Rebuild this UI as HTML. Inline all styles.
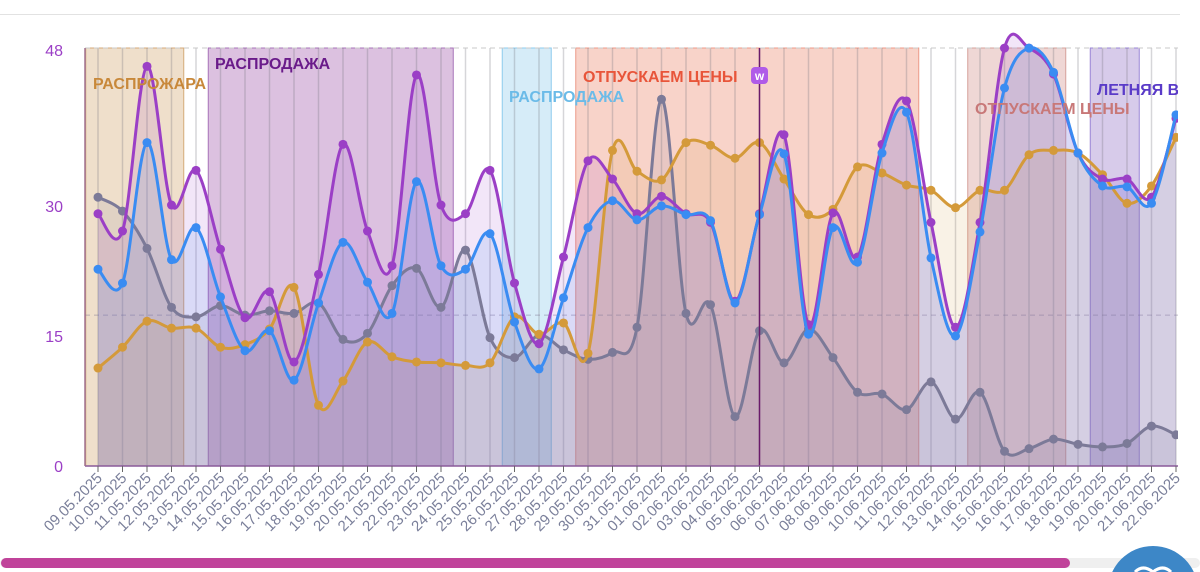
<!DOCTYPE html>
<html><head><meta charset="utf-8">
<style>
html,body{margin:0;padding:0;background:#fff;width:1200px;height:572px;overflow:hidden;font-family:"Liberation Sans","Noto Sans CJK JP",sans-serif;}
svg{display:block;overflow:hidden}
</style></head>
<body>
<svg id="chart" width="1200" height="572" viewBox="0 0 1200 572" xmlns="http://www.w3.org/2000/svg">
<line x1="0" y1="14.5" x2="1180" y2="14.5" stroke="#e2e2e2"/>
<g id="bands"></g>
<g id="grid"></g>
<g id="areas"></g>
<g id="lines"></g>
<g id="labels"></g>
<g id="axes"></g>
<rect x="0" y="558" width="1200" height="10" rx="5" fill="#efefef"/>
<rect x="1" y="558" width="1069" height="10" rx="5" fill="#c0439a"/>
<circle cx="1153" cy="591" r="45" fill="#3d87c7"/>
<path d="M1135 572 q8 -8 18 0 q10 -8 18 0" fill="none" stroke="#fff" stroke-width="3"/>
</svg>
<script>
const categories=["09.05.2025","10.05.2025","11.05.2025","12.05.2025","13.05.2025","14.05.2025","15.05.2025","16.05.2025","17.05.2025","18.05.2025","19.05.2025","20.05.2025","21.05.2025","22.05.2025","23.05.2025","24.05.2025","25.05.2025","26.05.2025","27.05.2025","28.05.2025","29.05.2025","30.05.2025","31.05.2025","01.06.2025","02.06.2025","03.06.2025","04.06.2025","05.06.2025","06.06.2025","07.06.2025","08.06.2025","09.06.2025","10.06.2025","11.06.2025","12.06.2025","13.06.2025","14.06.2025","15.06.2025","16.06.2025","17.06.2025","18.06.2025","19.06.2025","20.06.2025","21.06.2025","22.06.2025"];
const purple=[29.1,27.1,46.1,30.1,34.1,25.0,17.1,20.1,12.0,22.1,37.1,27.1,23.1,45.1,30.1,29.1,34.1,21.1,14.1,24.1,35.2,33.1,29.1,31.1,29.1,28.1,19.0,29.1,38.2,16.3,29.2,24.1,37.1,42.1,28.1,16.0,28.1,48.2,48.2,45.2,36.1,33.1,33.1,31.0,40.1];
const blue=[22.7,21.1,37.3,23.8,27.5,19.5,13.3,15.6,9.9,18.8,25.8,21.2,17.6,32.8,23.1,22.7,26.8,16.6,11.2,19.4,27.5,30.6,28.4,30.0,29.0,28.3,18.8,29.0,36.0,15.2,27.5,23.5,36.1,40.8,24.0,15.0,27.0,43.6,48.2,45.4,36.1,32.3,32.2,30.3,40.5];
const gray=[31.0,29.4,25.1,18.3,17.2,18.5,17.4,17.9,17.6,18.8,14.6,15.3,20.8,22.8,18.3,24.9,14.8,12.5,15.1,13.4,12.3,13.1,16.0,42.3,17.6,18.6,5.7,15.6,11.9,15.8,12.5,8.5,8.3,6.5,9.7,5.4,8.5,1.7,2.0,3.1,2.5,2.2,2.6,4.6,3.6];
const orange=[11.3,13.7,16.7,15.9,15.9,13.7,14.0,15.8,20.6,7.0,9.8,14.3,12.6,12.0,11.9,11.6,11.9,17.2,15.2,16.5,13.0,36.4,34.0,33.0,37.3,37.0,35.5,37.3,33.1,29.0,29.6,34.5,33.8,32.4,31.8,29.8,31.8,31.8,35.9,36.4,36.1,33.6,30.3,32.3,37.9];
const yTicks=[0,15,30,48];
const bandStart=[0,5,17,20,36,41];
const bandEnd=[3,14,18,33,39,42];
const bandNames=["РАСПРОЖАРА","РАСПРОДАЖА","РАСПРОДАЖА","ОТПУСКАЕМ ЦЕНЫ","ОТПУСКАЕМ ЦЕНЫ","ЛЕТНЯЯ ВЕСНА"];
const avgLine=17.4;
const markerIndex=27;

const NS="http://www.w3.org/2000/svg";
const X0=98,DX=24.5,Y0=466,KY=8.67,LEFT=85,RIGHT=1178,TOP=48;
const xs=i=>X0+DX*i, ys=v=>Y0-v*KY;
function mk(tag,attrs,parent){const e=document.createElementNS(NS,tag);for(const k in attrs)e.setAttribute(k,attrs[k]);parent.appendChild(e);return e;}
const bandFill=["#efdfcb","#dcc1e0","#d6ecf8","#f8d3c9","#efd7d5","#d7cbea"];
const bandStroke=["#d4aa78","#a773b8","#8ecbee","#ec9a88","#d6a09a","#9a85d6"];
const labelColor=["#c8883a","#6a1b8a","#6bbbe8","#e8553a","#c87878","#5a3bc8"];
const labelPos=[[93,89],[215,69],[509,102],[583,82],[975,114],[1097,95]];
const bands=document.getElementById('bands');
for(let b=0;b<bandStart.length;b++){
  const x1=xs(bandStart[b]-0.5),x2=xs(bandEnd[b]+0.5);
  const r=mk('rect',{x:x1,y:TOP,width:x2-x1,height:Y0-TOP,fill:bandFill[b],stroke:bandStroke[b],'stroke-width':1},bands);
  
  
}
const grid=document.getElementById('grid');
categories.forEach((c,i)=>{const l=mk('line',{x1:xs(i),y1:TOP,x2:xs(i),y2:Y0,stroke:'rgba(120,120,130,0.3)','stroke-width':1.5},grid);
  
  });
const tl=mk('line',{x1:LEFT,y1:TOP,x2:RIGHT,y2:TOP,stroke:'#c8c8c8','stroke-dasharray':'5 4'},grid);


const al=mk('line',{x1:LEFT,y1:ys(avgLine),x2:RIGHT,y2:ys(avgLine),stroke:'rgba(120,110,140,0.45)','stroke-dasharray':'5 4'},grid);



function curve(vals){
  const p=vals.map((v,i)=>[xs(i),ys(v)]);let d=`M${p[0][0]},${p[0][1]}`;
  for(let i=0;i<p.length-1;i++){const p0=p[i-1]||p[i],p1=p[i],p2=p[i+1],p3=p[i+2]||p2;const t=1/6;
    d+=` C${p1[0]+(p2[0]-p0[0])*t},${p1[1]+(p2[1]-p0[1])*t} ${p2[0]-(p3[0]-p1[0])*t},${p2[1]-(p3[1]-p1[1])*t} ${p2[0]},${p2[1]}`;}
  return d;
}
const series=[["gray",gray,"#7c7a98"],["orange",orange,"#d49a3a"],["purple",purple,"#9b3fc6"],["blue",blue,"#3a8cf2"]];
const areas=document.getElementById('areas'),lines=document.getElementById('lines');
series.forEach(([n,vals,col])=>{
  const a=mk('path',{d:curve(vals)+` L${xs(vals.length-1)},${Y0} L${xs(0)},${Y0} Z`,fill:col,'fill-opacity':0.13},areas);
  
  
});
series.forEach(([n,vals,col])=>{
  const l=mk('path',{d:curve(vals),fill:'none',stroke:col,'stroke-width':3},lines);
  
  
  vals.forEach((v,i)=>{const c=mk('circle',{cx:xs(i),cy:ys(v),r:4.5,fill:col},lines);
    
    });
});
const ml=mk('line',{x1:xs(markerIndex),y1:TOP,x2:xs(markerIndex),y2:Y0,stroke:'#6a1b6a','stroke-width':1.5},lines);


const labels=document.getElementById('labels');
bandNames.forEach((t,b)=>{const e=mk('text',{x:labelPos[b][0],y:labelPos[b][1],fill:labelColor[b],'font-size':16,'font-weight':'bold'},labels);e.textContent=t;
  
  });
const ic=mk('rect',{x:751,y:67,width:17,height:17,rx:4,fill:'#b05be8'},labels);


const it=mk('text',{x:759.5,y:80,fill:'#fff','font-size':12,'font-weight':'bold','text-anchor':'middle'},labels);it.textContent='w';


const axes=document.getElementById('axes');
mk('rect',{x:RIGHT,y:TOP-2,width:22,height:Y0-TOP+4,fill:'#fff'},axes);
const xa=mk('line',{x1:LEFT,y1:Y0,x2:RIGHT,y2:Y0,stroke:'#8a5a9a','stroke-width':1.5},axes);


const ya=mk('line',{x1:LEFT,y1:TOP,x2:LEFT,y2:Y0,stroke:'#a07090','stroke-width':1.5},axes);


yTicks.forEach(v=>{const t=mk('text',{x:63,y:ys(v)+6,fill:'#9b3fc6','font-size':16,'text-anchor':'end'},axes);t.textContent=v;
  
  });
categories.forEach((c,i)=>{
  const tk=mk('line',{x1:xs(i),y1:Y0,x2:xs(i),y2:Y0+6,stroke:'#666'},axes);
  
  
  const t=mk('text',{x:xs(i)+5,y:Y0+13,fill:'#7a7f9a','font-size':15,'text-anchor':'end',transform:`rotate(-45 ${xs(i)+5} ${Y0+13})`},axes);
  t.textContent=c;
  
  
});
</script>
</body></html>
